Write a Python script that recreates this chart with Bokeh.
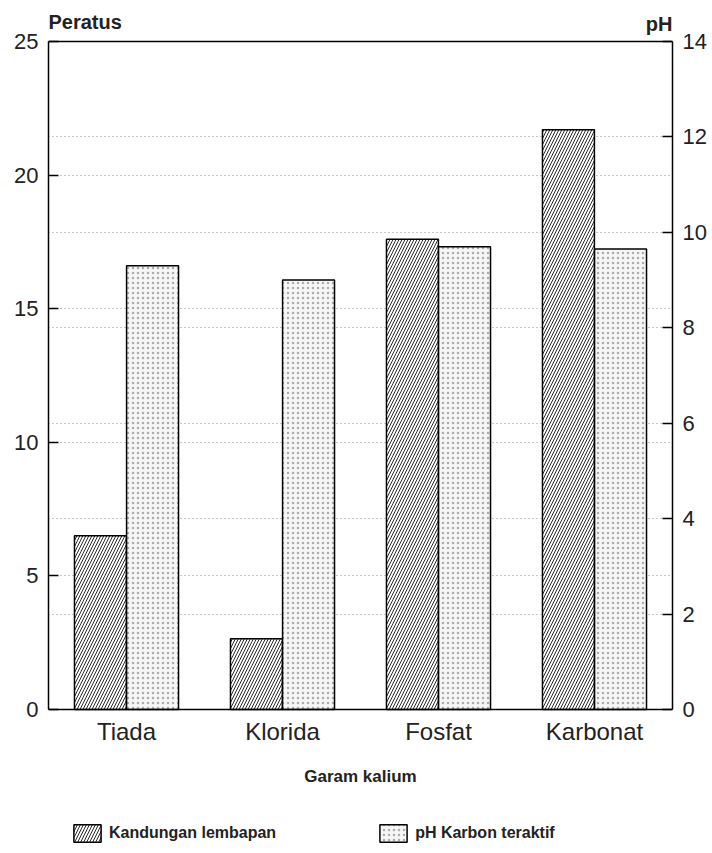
from bokeh.plotting import figure
from bokeh.models import (FactorRange, Range1d, LinearAxis, FixedTicker, Grid,
                          Legend, LegendItem, Label, ColumnDataSource, Span)
from bokeh.transform import dodge
from bokeh.embed import file_html
from bokeh.resources import INLINE

categories = ["Tiada", "Klorida", "Fosfat", "Karbonat"]
kandungan_lembapan = [6.5, 2.65, 17.6, 21.7]     # Peratus (left axis)
ph_karbon = [9.3, 9.0, 9.7, 9.65]                 # pH (right axis)
left_ticks = [0, 5, 10, 15, 20, 25]
right_ticks = [0, 2, 4, 6, 8, 10, 12, 14]

src = ColumnDataSource(dict(cat=categories, moist=kandungan_lembapan, ph=ph_karbon))

FONT = "Liberation Sans"
LEFT_MAX = 25
RIGHT_MAX = 14
HEAD = 1.235   # room above the chart box (in % units) for the axis titles
FOOT = 5.09    # room below the chart box (in % units) for category labels and legend

p = figure(x_range=FactorRange(*categories, range_padding=0),
           y_range=Range1d(-FOOT, LEFT_MAX + HEAD), title=None,
           frame_width=624, frame_height=837,
           output_backend="svg", toolbar_location=None,
           min_border_left=48, min_border_right=32, min_border_top=8,
           min_border_bottom=0)
p.extra_y_ranges = {"ph": Range1d(-FOOT * RIGHT_MAX / LEFT_MAX,
                                  (LEFT_MAX + HEAD) * RIGHT_MAX / LEFT_MAX)}

p.outline_line_color = None
p.background_fill_color = "white"
p.border_fill_color = "white"

# grids
p.xgrid.visible = False
p.ygrid.ticker = FixedTicker(ticks=left_ticks[1:-1])
p.ygrid.grid_line_color = "#444444"
p.ygrid.grid_line_dash = "1 3"
p.ygrid.grid_line_alpha = 0.6
p.ygrid.bounds = (0, LEFT_MAX)
g2 = Grid(dimension=1, ticker=FixedTicker(ticks=right_ticks[1:-1]), y_range_name="ph",
          grid_line_color="#444444", grid_line_dash="1 3", grid_line_alpha=0.6)
p.add_layout(g2)

# top edge of the chart box
p.add_layout(Span(location=LEFT_MAX, dimension="width", line_color="black", line_width=1.5))

r1 = p.vbar(x=dodge("cat", -0.167, range=p.x_range), top="moist", width=0.333, source=src,
            fill_color="white", line_color="black", line_width=1.5,
            hatch_pattern="/", hatch_color="#111111", hatch_scale=6, hatch_weight=0.9)
r2 = p.vbar(x=dodge("cat", 0.167, range=p.x_range), top="ph", width=0.333, source=src,
            y_range_name="ph",
            fill_color="#f6f6f6", line_color="black", line_width=1.5,
            hatch_pattern=".", hatch_color="#999999", hatch_scale=5, hatch_weight=1,
            hatch_alpha=0.8)

# left axis
ya = p.yaxis[0]
ya.ticker = FixedTicker(ticks=left_ticks)
ya.bounds = (0, LEFT_MAX)
ya.major_tick_in = 10
ya.major_tick_out = 0
ya.minor_tick_line_color = None
ya.axis_line_width = 1.5
ya.major_tick_line_width = 1.5
ya.major_label_text_font = FONT
ya.major_label_text_font_size = "22px"
ya.major_label_text_color = "#222222"
ya.major_label_standoff = 10

# right axis
ra = LinearAxis(y_range_name="ph", ticker=FixedTicker(ticks=right_ticks), bounds=(0, RIGHT_MAX))
ra.major_tick_in = 10
ra.major_tick_out = 0
ra.minor_tick_line_color = None
ra.axis_line_width = 1.5
ra.major_tick_line_width = 1.5
ra.major_label_text_font = FONT
ra.major_label_text_font_size = "22px"
ra.major_label_text_color = "#222222"
ra.major_label_standoff = 10
p.add_layout(ra, "right")

# x axis, drawn at the 0 line of the chart box
xa = p.xaxis[0]
xa.fixed_location = 0
xa.major_tick_line_color = None
xa.minor_tick_line_color = None
xa.major_tick_out = 0
xa.axis_line_width = 1.5
xa.major_label_text_font = FONT
xa.major_label_text_font_size = "24px"
xa.major_label_text_color = "#222222"
xa.major_label_standoff = 9
xa.axis_label = "Garam kalium"
xa.axis_label_text_font = FONT
xa.axis_label_text_font_size = "17px"
xa.axis_label_text_font_style = "bold"
xa.axis_label_text_color = "#222222"
xa.axis_label_standoff = 18

# axis titles
p.add_layout(Label(x=0, y=LEFT_MAX, x_offset=0, y_offset=8, text="Peratus",
                   text_baseline="bottom", text_align="left", text_font=FONT,
                   text_font_size="20px", text_font_style="bold", text_color="#222222"))
p.add_layout(Label(x=4, y=LEFT_MAX, x_offset=0, y_offset=6, text="pH",
                   text_baseline="bottom", text_align="right", text_font=FONT,
                   text_font_size="20px", text_font_style="bold", text_color="#222222"))

legend = Legend(items=[LegendItem(label="Kandungan lembapan", renderers=[r1]),
                       LegendItem(label="pH Karbon teraktif", renderers=[r2])],
                orientation="horizontal", location=(22, 1),
                label_text_font=FONT, label_text_font_size="16px",
                label_text_font_style="bold", label_text_color="#222222",
                glyph_width=34, glyph_height=22, spacing=100,
                border_line_color=None, background_fill_alpha=0,
                padding=0, margin=0)
p.add_layout(legend, "center")

open("out.html", "w").write(file_html(p, INLINE))
